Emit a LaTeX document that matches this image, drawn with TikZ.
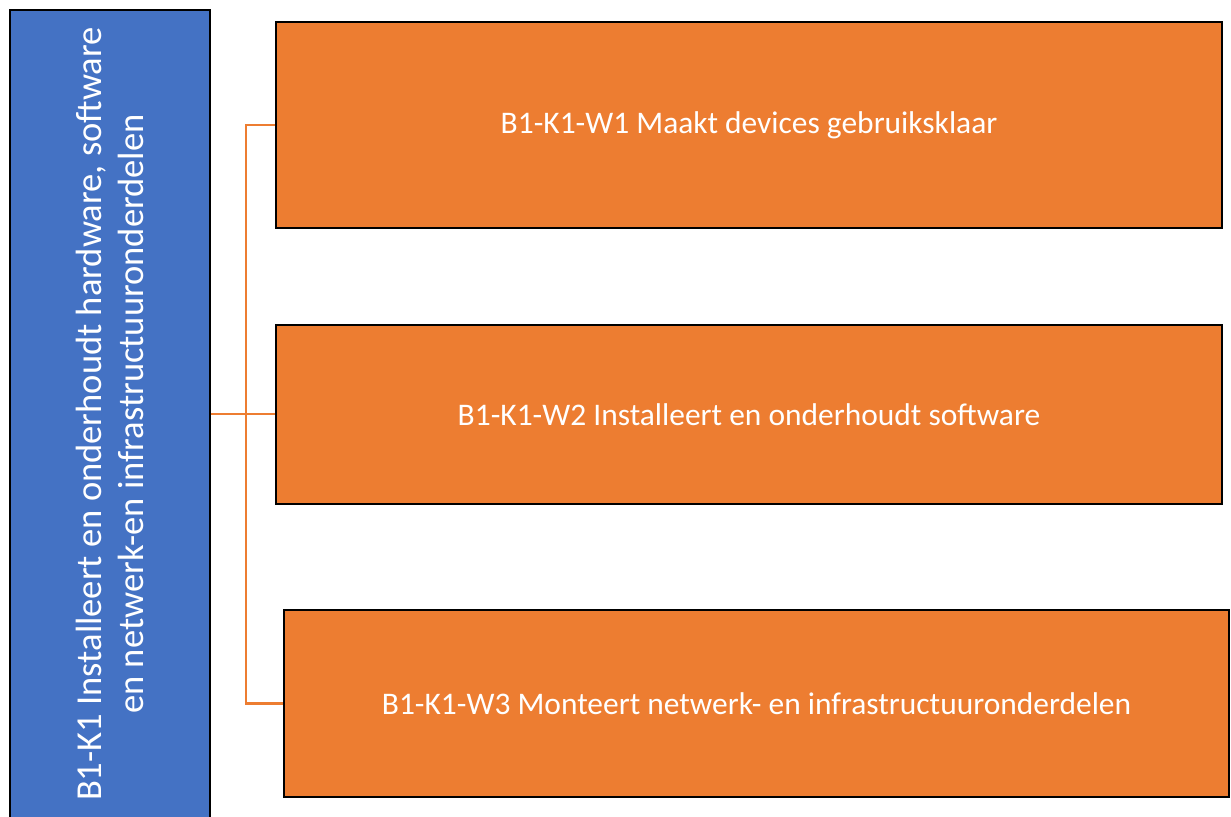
\documentclass[tikz,border=0pt]{standalone}
\usepackage{fontspec}
\setmainfont{Carlito}
\begin{document}
\begin{tikzpicture}[
        x=0.02cm, y=-0.02cm,
        kbox/.style={draw=black, line width=1.1pt, fill={rgb,255:red,68;green,114;blue,196}, text=white,
            rotate=90, align=center, inner sep=0pt, minimum width=16.16cm, minimum height=4cm,
            font=\fontsize{20.8}{24}\selectfont},
        wbox/.style={draw=black, line width=1.1pt, fill={rgb,255:red,237;green,125;blue,49}, text=white,
            inner sep=0pt, minimum width=18.92cm, font=\fontsize{17.9}{21}\selectfont},
        link/.style={draw={rgb,255:red,237;green,125;blue,49}, line width=1.2pt}
    ]
        \useasboundingbox (0,0) rectangle (1231,817);
        % core task and its work processes
        \node[kbox] (k1) at (110,414) {B1-K1 Installeert en onderhoudt hardware, software\\en netwerk-en infrastructuuronderdelen};
        \node[wbox, minimum height=4.12cm] (w1) at (749,125) {B1-K1-W1 Maakt devices gebruiksklaar};
        \node[wbox, minimum height=3.58cm] (w2) at (749,414.5) {B1-K1-W2 Installeert en onderhoudt software};
        \node[wbox, minimum height=3.74cm] (w3) at (756.5,703.5) {B1-K1-W3 Monteert netwerk- en infrastructuuronderdelen};
        \coordinate (bus) at (246,414);
        \draw[link] (k1.south) -- (w2.west |- k1.south);
        \draw[link] (w1.west) -| (bus) |- (w3.west);
    \end{tikzpicture}
\end{document}
